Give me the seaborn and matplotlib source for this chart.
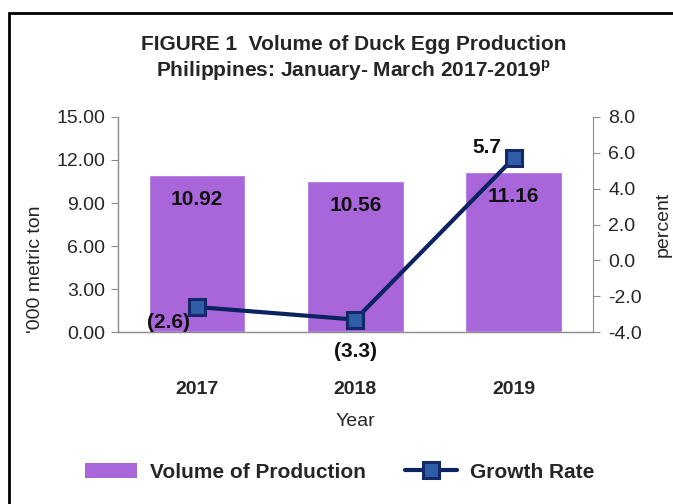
import numpy as np
import matplotlib
matplotlib.use("Agg")
import matplotlib.pyplot as plt
import seaborn as sns
import pandas as pd
from matplotlib.patches import Rectangle, Patch
from matplotlib.lines import Line2D

sns.set_style("white")
plt.rcParams["font.family"] = ["Liberation Sans", "DejaVu Sans"]
plt.rcParams["mathtext.fontset"] = "custom"
plt.rcParams["mathtext.bf"] = "Liberation Sans:bold"
plt.rcParams["mathtext.rm"] = "Liberation Sans"

years = ["2017", "2018", "2019"]
volume = [10.92, 10.56, 11.16]
growth = [-2.6, -3.3, 5.7]
growth_labels = ["(2.6)", "(3.3)", "5.7"]

bar_color = "#A966DB"
line_color = "#0B2461"
grey = "#8C8C8C"

df = pd.DataFrame({"Year": years, "Volume": volume, "Growth": growth})

fig = plt.figure(figsize=(6.73, 5.04), dpi=100)
ax = fig.add_axes([0.175, 0.341, 0.706, 0.427])

sns.barplot(data=df, x="Year", y="Volume", color=bar_color, width=0.61,
            saturation=1, ax=ax)
ax.set_ylim(0, 15)
ax.set_yticks(np.arange(0, 15.01, 3))
ax.set_yticklabels([f"{v:.2f}" for v in np.arange(0, 15.01, 3)], fontsize=14)
ax.set_xlim(-0.5, 2.5)
ax.set_xticks([0, 1, 2])
ax.set_xticklabels(years, fontsize=14, fontweight="bold")
ax.tick_params(axis="x", length=0, pad=35)
ax.set_xticks([0.5, 1.5], minor=True)
ax.tick_params(axis="x", which="minor", length=6, color=grey, direction="out")
ax.tick_params(axis="y", length=5, color=grey, direction="out", left=True, pad=4)
ax.set_ylabel("'000 metric ton", fontsize=14)
ax.yaxis.set_label_coords(-0.155, 0.29)
ax.set_xlabel("Year", fontsize=14, labelpad=11)
for s in ["top", "right"]:
    ax.spines[s].set_visible(False)
for s in ["left", "bottom"]:
    ax.spines[s].set_color(grey)
    ax.spines[s].set_linewidth(1)

# volume labels inside the bars
for i, v in enumerate(volume):
    ax.text(i, v - 1.7, f"{v:.2f}", ha="center", va="center",
            fontsize=15, fontweight="bold", color="#111111")

ax2 = ax.twinx()
sns.lineplot(x=[0, 1, 2], y=growth, ax=ax2, color=line_color, linewidth=3,
             marker="s", markersize=11, markerfacecolor="#2F5DA6",
             markeredgecolor="#14286A", markeredgewidth=2.2)
ax2.set_ylim(-4, 8)
ax2.set_yticks(np.arange(-4, 8.01, 2))
ax2.set_yticklabels([f"{v:.1f}" for v in np.arange(-4, 8.01, 2)], fontsize=14)
ax2.tick_params(axis="y", length=5, color=grey, direction="out", right=True, pad=6)
ax2.set_ylabel("percent", fontsize=14, rotation=90)
ax2.yaxis.set_label_coords(1.131, 0.5)
for s in ["top", "left", "bottom"]:
    ax2.spines[s].set_visible(False)
ax2.spines["right"].set_color(grey)

# growth rate labels
ax2.text(0 - 0.18, growth[0] - 0.85, growth_labels[0], ha="center", va="center",
         fontsize=15, fontweight="bold", color="#111111")
ax2.text(1, growth[1] - 1.8, growth_labels[1], ha="center", va="center",
         fontsize=15, fontweight="bold", color="#111111", clip_on=False)
ax2.text(2 - 0.17, growth[2] + 0.62, growth_labels[2], ha="center", va="center",
         fontsize=15, fontweight="bold", color="#111111")

fig.text(0.525, 0.911, "FIGURE 1  Volume of Duck Egg Production", ha="center",
         va="center", fontsize=15, fontweight="bold")
fig.text(0.525, 0.859, r"Philippines: January- March 2017-2019$^{\mathbf{p}}$",
         ha="center", va="center", fontsize=15, fontweight="bold")

handles = [Patch(facecolor=bar_color, edgecolor="none"),
           Line2D([0], [0], color=line_color, linewidth=3, marker="s",
                  markersize=11, markerfacecolor="#2F5DA6",
                  markeredgecolor="#14286A", markeredgewidth=2.2)]
fig.legend(handles, ["Volume of Production", "Growth Rate"], loc="center",
           bbox_to_anchor=(0.505, 0.063), ncol=2, frameon=False,
           prop={"weight": "bold", "size": 15}, handlelength=2.5,
           handletextpad=0.6, columnspacing=1.9)

fig.patches.append(Rectangle((9 / 673, -0.1), 1.2, 1.074, transform=fig.transFigure,
                             fill=False, edgecolor="black", linewidth=2))

fig.savefig("out.png", dpi=100)
